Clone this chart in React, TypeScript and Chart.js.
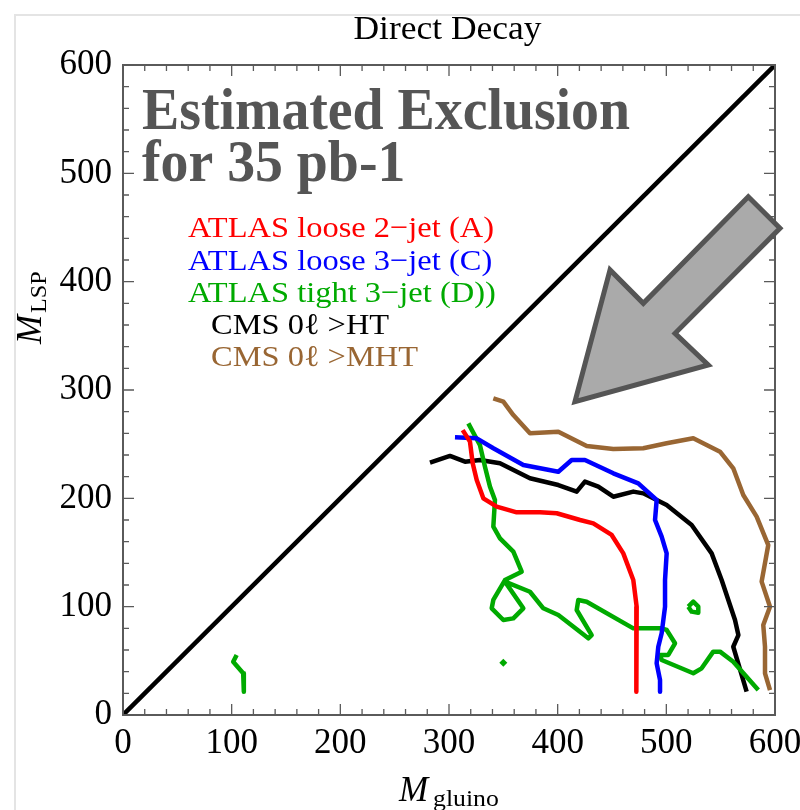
import React, { useEffect, useRef } from 'react';
import { Chart, registerables } from 'chart.js';
Chart.register(...registerables);

type P = [number, number];

// axis range and ticks
const axisMin = 0;
const axisMax = 600;
const majorStep = 100;
const minorStep = 20;

const diagonal: P[] = [[0, 0], [600, 600]];

const atlasLoose2jetA: P[] = [
  [312.6, 263], [319.3, 252.3], [321.8, 232.3], [325.5, 216.9], [331.6, 200], [343.9, 192.3],
  [362.3, 187.1], [383.7, 187.1], [399.1, 186.2], [420.6, 180], [432.8, 176.9], [449.7, 166.2],
  [460.4, 149.2], [469.6, 124.6], [472.7, 100], [472.1, 75.4], [472.7, 21.5],
];

const atlasLoose3jetC: P[] = [
  [305.5, 256.3], [325.5, 255.4], [340.8, 246.2], [368.4, 230.8], [400.6, 224.6], [412.9, 235.4],
  [425.1, 235.4], [451.2, 223.1], [474.2, 213.8], [491.1, 198.5], [489.6, 180], [495.7, 164.6],
  [500.3, 149.2], [498.8, 124.6], [498.8, 100], [495.7, 75.4], [492.6, 63], [491.1, 47.7],
  [494.2, 32.3], [494.2, 21.5],
];

const atlasTight3jetD: P[] = [
  [317.8, 269.2], [328.5, 249], [333.1, 229.2], [337.7, 210.8], [342.3, 198.5], [340.8, 173.8],
  [346.9, 163.1], [359.2, 150.8], [366.9, 132.3], [351.5, 124.6],
  [340.8, 106.2], [339.3, 98.5], [350, 87.7], [359.2, 89.2], [368.4, 98.5], [351.5, 123.1],
  [374.5, 113.8], [386.8, 98.5], [400.6, 92.3], [428.2, 70.8], [431.3, 73.8], [417.5, 96.9],
  [419, 106.2], [426.7, 104.6], [469.6, 80], [495.7, 80], [500.3, 78.5], [508, 66.2],
  [501.8, 55.4], [494.2, 55.4], [495.7, 50.8], [524.8, 38.5], [532.5, 43.1], [543.2, 58.5],
  [549.4, 58.5], [561.6, 49.2], [584.6, 23.1],
];
const atlasTight3jetDIsland: P[] = [
  [520.2, 100], [524.8, 104.6], [529.4, 100], [529.4, 94.4], [523.3, 95.4], [520.2, 100],
];
const atlasTight3jetDLow: P[] = [[104.6, 55.4], [101.4, 49.2], [110.6, 38.5], [111.2, 21.5]];
const atlasTight3jetDDot: P[] = [[350, 48.3]];

const cmsHT: P[] = [
  [282.5, 232.9], [300.9, 239.1], [314.7, 233.8], [328.5, 235.4], [346.9, 232.3], [374.5, 218.5],
  [400.6, 212.3], [417.5, 206.2], [425.1, 215.4], [437.4, 210.8], [451.2, 201.5], [469.6, 206.2],
  [478.8, 204.6], [500.3, 193.8], [523.3, 175.4], [541.7, 149.2], [550.9, 124.6], [563.2, 87.7],
  [566.3, 73.8], [561.6, 63], [573.9, 21.5],
];

const cmsMHT: P[] = [
  [340.8, 292.3], [350, 289.2], [359.2, 276.9], [374.5, 260], [400.6, 261.5], [426.7, 248.3],
  [451.2, 245.5], [478.8, 246.2], [500.3, 250.8], [524.8, 255.4], [549.4, 243.1], [561.6, 227.7],
  [570.8, 203.1], [583.1, 183.1], [593.8, 156.9], [587.7, 123.1], [595.4, 100], [589.2, 83.1],
  [590.8, 63], [590.8, 38.5], [595.4, 23],
];

// arrow annotation outline, in data units
const arrowShape: P[] = [
  [575.4, 478.4], [604.6, 449.3], [508, 352.3], [538.6, 323.1], [415.9, 289.2], [448.2, 410.8], [478.8, 380],
];

const legendLabels = [
  'ATLAS loose 2\u2212jet (A)',
  'ATLAS loose 3\u2212jet (C)',
  'ATLAS tight 3\u2212jet (D))',
  'CMS 0\u2113 >HT',
  'CMS 0\u2113 >MHT',
];

const RED = '#ff0000';
const BLUE = '#0000ff';
const GREEN = '#00aa00';
const BROWN = '#996633';
const legendColors = [RED, BLUE, GREEN, '#000000', BROWN];

const SERIF = '"Liberation Serif", "Times New Roman", serif';

function toData(p: P[]) {
  return p.map(([x, y]) => ({ x, y }));
}

function lineDs(label: string, pts: P[], color: string, width = 4.5) {
  return {
    label,
    data: toData(pts),
    showLine: true,
    borderColor: color,
    backgroundColor: color,
    borderWidth: width,
    pointRadius: 0,
    pointHoverRadius: 0,
    fill: false,
    tension: 0,
    borderJoinStyle: 'round' as const,
    borderCapStyle: 'butt' as const,
  };
}

function drawScaledText(
  ctx: CanvasRenderingContext2D, text: string, x: number, y: number, font: string,
  color: string, sx: number, align: 'left' | 'center' = 'left'
) {
  ctx.save();
  ctx.font = font;
  ctx.fillStyle = color;
  ctx.textBaseline = 'alphabetic';
  const w = ctx.measureText(text).width * sx;
  const x0 = align === 'center' ? x - w / 2 : x;
  ctx.translate(x0, y);
  ctx.scale(sx, 1);
  ctx.textAlign = 'left';
  ctx.fillText(text, 0, 0);
  ctx.restore();
}

function widthScale(ctx: CanvasRenderingContext2D, text: string, font: string, target: number) {
  ctx.save();
  ctx.font = font;
  const w = ctx.measureText(text).width;
  ctx.restore();
  return target / w;
}

const decorPlugin = {
  id: 'decor',
  beforeDraw(chart: any) {
    const ctx: CanvasRenderingContext2D = chart.ctx;
    ctx.save();
    ctx.fillStyle = '#ffffff';
    ctx.fillRect(0, 0, chart.width, chart.height);
    // faint outer border of the original figure
    ctx.strokeStyle = '#e4e4e4';
    ctx.lineWidth = 2;
    ctx.beginPath();
    ctx.moveTo(15, chart.height);
    ctx.lineTo(15, 15);
    ctx.lineTo(chart.width, 15);
    ctx.stroke();
    ctx.restore();
  },
  afterDatasetsDraw(chart: any) {
    const ctx: CanvasRenderingContext2D = chart.ctx;
    const xs = chart.scales.x;
    const ys = chart.scales.y;
    const { left, right, top, bottom } = chart.chartArea;

    // frame
    ctx.save();
    ctx.strokeStyle = '#5a5a5a';
    ctx.lineWidth = 2;
    ctx.strokeRect(left, top, right - left, bottom - top);
    // inward ticks on all four sides
    ctx.lineWidth = 1.3;
    ctx.beginPath();
    for (let v = axisMin; v <= axisMax; v += minorStep) {
      const len = v % majorStep === 0 ? 11 : 6;
      const px = xs.getPixelForValue(v);
      const py = ys.getPixelForValue(v);
      ctx.moveTo(px, bottom); ctx.lineTo(px, bottom - len);
      ctx.moveTo(px, top); ctx.lineTo(px, top + len);
      ctx.moveTo(left, py); ctx.lineTo(left + len, py);
      ctx.moveTo(right, py); ctx.lineTo(right - len, py);
    }
    ctx.stroke();
    ctx.restore();

    // arrow annotation
    ctx.save();
    ctx.beginPath();
    arrowShape.forEach(([x, y], i) => {
      const px = xs.getPixelForValue(x);
      const py = ys.getPixelForValue(y);
      if (i === 0) ctx.moveTo(px, py); else ctx.lineTo(px, py);
    });
    ctx.closePath();
    ctx.fillStyle = '#aaaaaa';
    ctx.fill();
    ctx.strokeStyle = '#555555';
    ctx.lineWidth = 5;
    ctx.lineJoin = 'miter';
    ctx.stroke();
    ctx.restore();

    // title
    const titleFont = `33px ${SERIF}`;
    const tS = widthScale(ctx, 'Direct Decay', titleFont, 188);
    drawScaledText(ctx, 'Direct Decay', 447.5, 38.5, titleFont, '#000', tS, 'center');

    // big annotation text
    const bigFont = `bold 60px ${SERIF}`;
    const bS = widthScale(ctx, 'Estimated Exclusion', bigFont, 488);
    drawScaledText(ctx, 'Estimated Exclusion', 142, 129, bigFont, '#555555', bS);
    drawScaledText(ctx, 'for 35 pb-1', 142, 181, bigFont, '#555555', bS);

    // legend text
    const legFont = `30px ${SERIF}`;
    const lS = widthScale(ctx, legendLabels[0], legFont, 306);
    const legX = [188, 188, 188, 211, 211];
    const legY = [237, 269.5, 301.5, 334, 365.7];
    legendLabels.forEach((t, i) => {
      drawScaledText(ctx, t, legX[i], legY[i], legFont, legendColors[i], lS);
    });

    // x axis title: M_gluino
    drawScaledText(ctx, 'M', 399, 801, `italic 35px ${SERIF}`, '#000', 1.0);
    drawScaledText(ctx, 'gluino', 433, 806, `23px ${SERIF}`, '#000', 1.12);

    // y axis title: M_LSP (rotated)
    ctx.save();
    ctx.translate(41, 344);
    ctx.rotate(-Math.PI / 2);
    drawScaledText(ctx, 'M', 0, 0, `italic 35px ${SERIF}`, '#000', 1.0);
    drawScaledText(ctx, 'LSP', 31, 5, `23px ${SERIF}`, '#000', 1.05);
    ctx.restore();
  },
};

export default function App() {
  const ref = useRef<HTMLCanvasElement | null>(null);
  useEffect(() => {
    if (!ref.current) return;
    const tickFont = { family: SERIF, size: 35 };
    const chart = new Chart(ref.current, {
      type: 'scatter',
      data: {
        datasets: [
          lineDs('diagonal', diagonal, '#000000', 4.5),
          lineDs(legendLabels[0], atlasLoose2jetA, RED),
          lineDs(legendLabels[1], atlasLoose3jetC, BLUE),
          lineDs(legendLabels[2], atlasTight3jetD, GREEN),
          lineDs(legendLabels[2] + ' island', atlasTight3jetDIsland, GREEN),
          lineDs(legendLabels[2] + ' low', atlasTight3jetDLow, GREEN),
          {
            label: legendLabels[2] + ' dot',
            data: toData(atlasTight3jetDDot),
            showLine: false,
            pointStyle: 'rectRot',
            pointRadius: 4,
            pointBackgroundColor: GREEN,
            pointBorderWidth: 0,
            backgroundColor: GREEN,
            borderColor: GREEN,
          } as any,
          lineDs(legendLabels[3], cmsHT, '#000000'),
          lineDs(legendLabels[4], cmsMHT, BROWN),
        ],
      },
      options: {
        animation: false,
        responsive: false,
        devicePixelRatio: 1,
        events: [],
        layout: { padding: { left: 0, right: 25, top: 65, bottom: 0 }, autoPadding: false } as any,
        plugins: { legend: { display: false }, tooltip: { enabled: false }, title: { display: false } },
        scales: {
          x: {
            type: 'linear',
            min: axisMin,
            max: axisMax,
            ticks: { stepSize: majorStep, font: tickFont, color: '#000', padding: 8, maxRotation: 0, autoSkip: false },
            grid: { display: false, drawTicks: false },
            border: { display: false },
            afterFit: (s: any) => { s.height = 95; s.paddingLeft = 0; s.paddingRight = 0; },
          },
          y: {
            type: 'linear',
            min: axisMin,
            max: axisMax,
            ticks: { stepSize: majorStep, font: tickFont, color: '#000', padding: 11, autoSkip: false },
            grid: { display: false, drawTicks: false },
            border: { display: false },
            afterFit: (s: any) => { s.width = 123; s.paddingTop = 0; s.paddingBottom = 0; },
          },
        },
      },
      plugins: [decorPlugin],
    });
    return () => chart.destroy();
  }, []);
  return (
    <div style={{ position: 'fixed', left: 0, top: 0, width: 800, height: 810, background: '#fff' }}>
      <canvas ref={ref} width={800} height={810} style={{ display: 'block' }} />
    </div>
  );
}
